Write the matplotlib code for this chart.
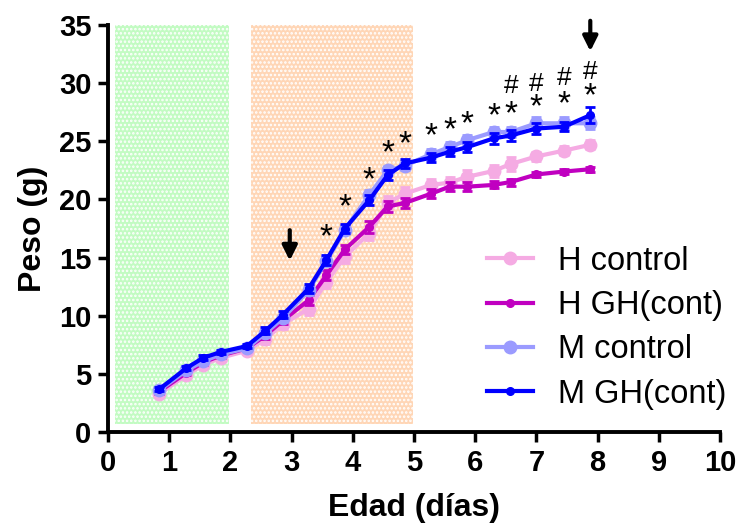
import numpy as np
import matplotlib.pyplot as plt
from matplotlib.patches import Rectangle

plt.rcParams['font.family'] = ['Liberation Sans', 'DejaVu Sans']
plt.rcParams['hatch.linewidth'] = 1.2

# edad (dias) de cada pesada
dias = [0.84, 1.28, 1.56, 1.85, 2.27, 2.57, 2.86, 3.28, 3.57, 3.87,
        4.27, 4.57, 4.85, 5.28, 5.58, 5.87, 6.3, 6.58, 7.0, 7.45, 7.88]

h_control = [3.3, 4.9, 5.8, 6.4, 7.0, 8.0, 9.3, 10.6, 12.9, 15.1,
             17.1, 19.7, 20.5, 21.25, 21.45, 21.95, 22.45, 23.05, 23.7, 24.2, 24.7]
h_control_err = [0.3, 0.3, 0.3, 0.3, 0.3, 0.4, 0.4, 0.5, 0.5, 0.6,
                 0.6, 0.6, 0.6, 0.5, 0.5, 0.6, 0.5, 0.6, 0.4, 0.4, 0.4]

h_gh = [3.5, 5.1, 6.0, 6.6, 7.2, 8.3, 9.6, 11.35, 13.5, 15.7,
        17.65, 19.4, 19.7, 20.5, 21.1, 21.1, 21.25, 21.5, 22.15, 22.4, 22.6]
h_gh_err = [0.2, 0.2, 0.2, 0.2, 0.2, 0.3, 0.3, 0.4, 0.4, 0.4,
            0.5, 0.5, 0.4, 0.4, 0.4, 0.4, 0.3, 0.3, 0.2, 0.2, 0.2]

m_control = [3.6, 5.3, 6.1, 6.7, 7.2, 8.5, 9.8, 12.2, 14.7, 17.4,
             20.4, 22.5, 22.9, 23.9, 24.5, 25.1, 25.8, 25.8, 26.55, 26.55, 26.55]
m_control_err = [0.2, 0.2, 0.2, 0.2, 0.2, 0.3, 0.3, 0.4, 0.4, 0.4,
                 0.4, 0.4, 0.4, 0.4, 0.4, 0.4, 0.4, 0.4, 0.5, 0.5, 0.5]

m_gh = [3.7, 5.5, 6.4, 6.9, 7.4, 8.7, 10.1, 12.35, 14.8, 17.5,
        19.95, 22.1, 23.1, 23.6, 24.1, 24.5, 25.25, 25.5, 26.1, 26.25, 27.25]
m_gh_err = [0.2, 0.2, 0.2, 0.2, 0.2, 0.3, 0.3, 0.4, 0.4, 0.4,
            0.4, 0.4, 0.4, 0.4, 0.4, 0.4, 0.5, 0.5, 0.5, 0.4, 0.7]

# diferencias significativas
ast_x = [3.57, 3.87, 4.27, 4.57, 4.85, 5.28, 5.58, 5.87, 6.3, 6.58, 7.0, 7.45, 7.88]
ast_y = [16.7, 19.3, 21.6, 23.9, 24.7, 25.35, 25.9, 26.45, 27.15, 27.3, 27.9, 28.15, 28.8]
hash_x = [6.58, 7.0, 7.45, 7.88]
hash_y = [29.75, 29.95, 30.45, 30.95]

# periodos de tratamiento
periodos = [(0.12, 1.97, '#c2fbc2'), (2.34, 4.98, '#ffd6b6')]

fig = plt.figure(figsize=(7.37, 5.27), dpi=100)
ax = fig.add_axes([0.1465, 0.180, 0.8305, 0.7726])

for x0, x1, col in periodos:
    ax.add_patch(Rectangle((x0, 0.7), x1 - x0, 34.5, facecolor=col,
                           edgecolor='white', hatch='....', lw=0, zorder=0))

series = [
    (h_control, h_control_err, '#f5abe3', 9, 'H control'),
    (h_gh, h_gh_err, '#c000c0', 5.5, 'H GH(cont)'),
    (m_control, m_control_err, '#9b9bff', 9, 'M control'),
    (m_gh, m_gh_err, '#0000ff', 5.5, 'M GH(cont)'),
]
for y, e, col, ms, lab in series:
    ax.errorbar(dias, y, yerr=e, fmt='none', ecolor=col, capsize=3.5,
                elinewidth=2, capthick=2, zorder=3)
    ax.plot(dias, y, color=col, lw=3, marker='o', ms=ms, label=lab, zorder=3)

for x, y in zip(ast_x, ast_y):
    ax.text(x, y, '*', ha='center', va='center', fontsize=24, zorder=5)
for x, y in zip(hash_x, hash_y):
    ax.text(x, y, '#', ha='center', va='center', fontsize=19, zorder=5)

arrow = dict(arrowstyle='-|>', lw=3, color='black', mutation_scale=22)
ax.annotate('', xy=(2.97, 14.5), xytext=(2.97, 17.6), arrowprops=arrow)
ax.annotate('', xy=(7.88, 32.5), xytext=(7.88, 35.6), arrowprops=arrow,
            annotation_clip=False)

ax.set_xlim(0, 10)
ax.set_ylim(0, 35)
ax.set_xticks(range(0, 11))
ax.set_yticks(range(0, 36, 5))
for s in ['top', 'right']:
    ax.spines[s].set_visible(False)
for s in ['left', 'bottom']:
    ax.spines[s].set_linewidth(2.8)
ax.tick_params(width=2.5, length=7, labelsize=21, pad=5)
for t in ax.get_xticklabels() + ax.get_yticklabels():
    t.set_fontweight('bold')

ax.set_xlabel('Edad (días)', fontsize=23, fontweight='bold', labelpad=12)
ax.set_ylabel('Peso (g)', fontsize=23, fontweight='bold', labelpad=8)

ax.legend(loc='upper left', bbox_to_anchor=(0.62, 0.458), frameon=False,
          fontsize=23.5, handlelength=1.4, handletextpad=0.75, labelspacing=0.41,
          borderpad=0, borderaxespad=0)

fig.savefig('out.png', dpi=100)
